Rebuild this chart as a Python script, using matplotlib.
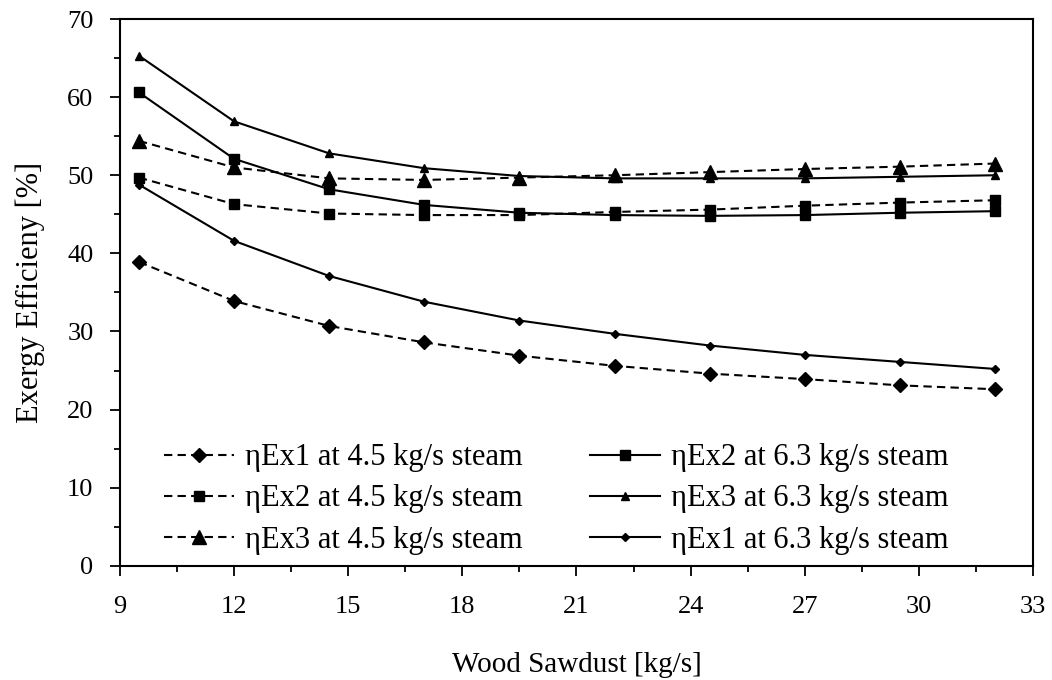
import matplotlib.pyplot as plt
from matplotlib.ticker import MultipleLocator

plt.rcParams["font.family"] = ["Liberation Serif", "DejaVu Serif"]

# Wood sawdust flow [kg/s]
sawdust = [9.5, 12, 14.5, 17, 19.5, 22, 24.5, 27, 29.5, 32]

# Exergy efficiency [%] at 4.5 kg/s steam
ex1_45 = [38.9, 33.9, 30.7, 28.6, 26.9, 25.6, 24.6, 23.9, 23.1, 22.6]
ex2_45 = [49.7, 46.3, 45.1, 44.9, 44.9, 45.3, 45.6, 46.1, 46.5, 46.8]
ex3_45 = [54.4, 51.0, 49.6, 49.4, 49.7, 50.0, 50.4, 50.8, 51.1, 51.5]

# Exergy efficiency [%] at 6.3 kg/s steam
ex1_63 = [48.8, 41.6, 37.1, 33.8, 31.4, 29.7, 28.2, 27.0, 26.1, 25.2]
ex2_63 = [60.6, 52.1, 48.2, 46.2, 45.2, 44.9, 44.8, 44.9, 45.2, 45.4]
ex3_63 = [65.3, 56.9, 52.8, 50.9, 49.9, 49.6, 49.6, 49.6, 49.8, 50.0]

fig = plt.figure(figsize=(10.52, 6.8), dpi=100)
ax = fig.add_axes([0.114, 0.168, 0.868, 0.804])

dash = (0, (4, 2.5))
l1, = ax.plot(sawdust, ex1_45, color="black", lw=1.5, ls=dash, marker="D", ms=7,
              label="ηEx1 at 4.5 kg/s steam")
l2, = ax.plot(sawdust, ex2_45, color="black", lw=1.5, ls=dash, marker="s", ms=7,
              label="ηEx2 at 4.5 kg/s steam")
l3, = ax.plot(sawdust, ex3_45, color="black", lw=1.5, ls=dash, marker="^", ms=10,
              label="ηEx3 at 4.5 kg/s steam")
l4, = ax.plot(sawdust, ex2_63, color="black", lw=1.5, ls="-", marker="s", ms=7,
              label="ηEx2 at 6.3 kg/s steam")
l5, = ax.plot(sawdust, ex3_63, color="black", lw=1.5, ls="-", marker="^", ms=6,
              label="ηEx3 at 6.3 kg/s steam")
l6, = ax.plot(sawdust, ex1_63, color="black", lw=1.5, ls="-", marker="D", ms=4.5,
              label="ηEx1 at 6.3 kg/s steam")

ax.set_xlim(9, 33)
ax.set_ylim(0, 70)
ax.xaxis.set_major_locator(MultipleLocator(3))
ax.xaxis.set_minor_locator(MultipleLocator(1.5))
ax.yaxis.set_major_locator(MultipleLocator(10))
ax.yaxis.set_minor_locator(MultipleLocator(5))
ax.tick_params(which="major", direction="out", length=7, width=1.3, labelsize=19)
ax.tick_params(axis="x", which="major", pad=15)
ax.tick_params(axis="y", which="major", pad=12)
ax.tick_params(which="minor", direction="out", length=4, width=1.3)
for s in ax.spines.values():
    s.set_linewidth(1.5)

ax.set_xlabel("Wood Sawdust [kg/s]", fontsize=21, labelpad=24)
ax.set_ylabel("Exergy Efficieny [%]", fontsize=22, labelpad=16)

ax.legend(handles=[l1, l2, l3, l4, l5, l6], ncol=2, frameon=False, fontsize=22,
          loc="lower left", bbox_to_anchor=(0.018, -0.03), handlelength=2.3,
          labelspacing=0.4, columnspacing=2.2, handletextpad=0.35)

fig.savefig("out.png", dpi=100)
